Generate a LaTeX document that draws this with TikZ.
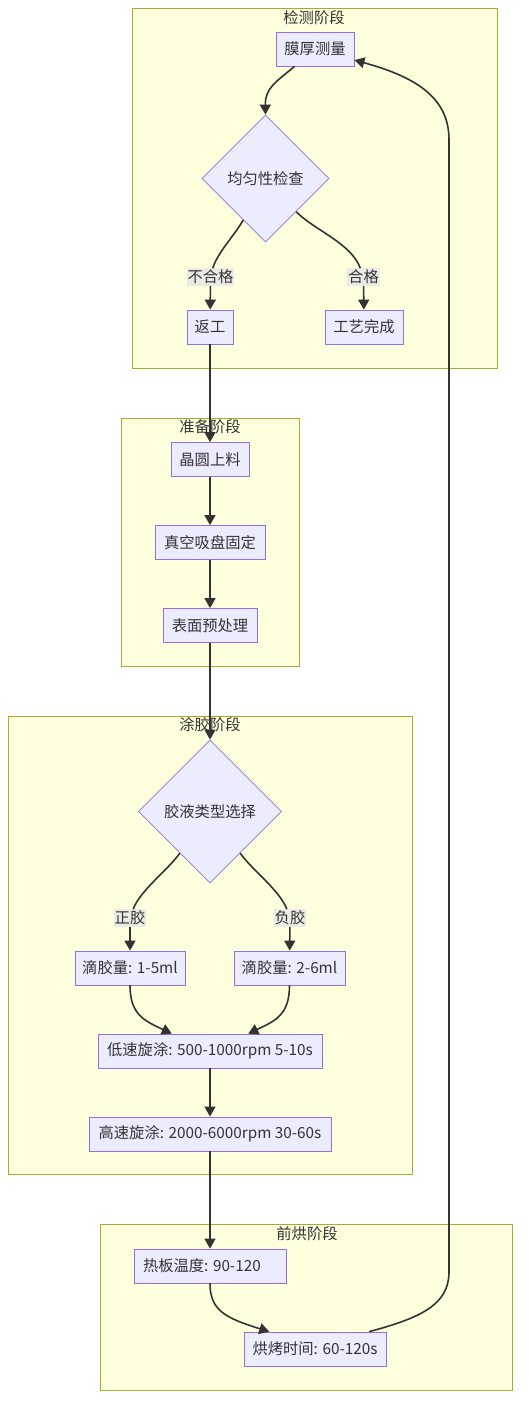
\documentclass[tikz,border=0pt]{standalone}
\usepackage{fontspec}
\setmainfont{Noto Sans CJK SC}
\usetikzlibrary{shapes.geometric,arrows.meta,calc}
\definecolor{clfill}{HTML}{FFFFDE}
\definecolor{cldraw}{HTML}{AAAA33}
\definecolor{ndfill}{HTML}{ECECFF}
\definecolor{nddraw}{HTML}{9370DB}
\definecolor{edgec}{HTML}{333333}
\definecolor{lblbg}{HTML}{E8E8E8}
\begin{document}
\begin{tikzpicture}[x=1pt,y=1pt,
  font=\fontsize{15.3}{18}\selectfont, text=edgec,
  cluster/.style={draw=cldraw, fill=clfill, line width=0.8pt},
  cltitle/.style={inner sep=0pt},
  box/.style={draw=nddraw, fill=ndfill, line width=0.8pt, minimum height=34pt, inner sep=0pt},
  dia/.style={diamond, aspect=1, draw=nddraw, fill=ndfill, line width=0.8pt, inner sep=0pt},
  elabel/.style={fill=lblbg, fill opacity=0.85, text opacity=1, inner xsep=1pt, inner ysep=1.5pt},
  flow/.style={draw=edgec, line width=1.6pt},
  arr/.style={flow, -{Triangle[length=10pt,width=11pt]}}]
\useasboundingbox (0,0) rectangle (528,-1418);
\fill[white] (0,0) rectangle (528,-1418);

% clusters
\path[cluster] (132,-8) rectangle (497,-368);
\path[cluster] (121,-418) rectangle (299,-666);
\path[cluster] (8,-716) rectangle (412,-1174);
\path[cluster] (100,-1224) rectangle (512,-1390);
\node[cltitle] (t1) at (314,-18) {检测阶段};
\node[cltitle] (t2) at (210,-427) {准备阶段};
\node[cltitle] (t3) at (210,-725) {涂胶阶段};
\node[cltitle] (t4) at (307,-1234) {前烘阶段};

% nodes
\node[box, minimum width=78pt] (mh) at (315,-49) {膜厚测量};
\node[dia, minimum width=127pt, minimum height=127pt] (jy) at (265.5,-178.5) {均匀性检查};
\node[box, minimum width=46pt] (fg) at (210,-327) {返工};
\node[box, minimum width=78pt] (wc) at (364,-327) {工艺完成};
\node[elabel] (l1) at (210.5,-277) {不合格};
\node[elabel] (l2) at (363.5,-277) {合格};

\node[box, minimum width=78pt] (sl) at (210,-459.5) {晶圆上料};
\node[box, minimum width=110pt] (zk) at (210,-542.5) {真空吸盘固定};
\node[box, minimum width=94pt] (bm) at (210,-625.5) {表面预处理};

\node[dia, minimum width=143pt, minimum height=143pt] (jl) at (210,-811.5) {胶液类型选择};
\node[elabel] (l3) at (130,-918) {正胶};
\node[elabel] (l4) at (290,-918) {负胶};
\node[box, minimum width=110pt] (dj1) at (130,-968) {滴胶量: 1-5ml};
\node[box, minimum width=111pt] (dj2) at (289.5,-968) {滴胶量: 2-6ml};
\node[box, minimum width=224pt] (ds) at (210,-1051) {低速旋涂: 500-1000rpm 5-10s};
\node[box, minimum width=242pt] (gs) at (210,-1134) {高速旋涂: 2000-6000rpm 30-60s};

\node[box, minimum width=152pt] (rb) at (210,-1266) {\makebox[134pt][l]{热板温度: 90-120}};
\node[box, minimum width=142pt] (bk) at (315,-1349) {烘烤时间: 60-120s};

% anchor coordinates
\coordinate (mhs) at ($(mh.south west)!0.24!(mh.south east)$);
\coordinate (s1) at ($(jy.west)!0.65!(jy.south)$);
\coordinate (s2) at ($(jy.east)!0.52!(jy.south)$);
\coordinate (s3) at ($(jl.west)!0.58!(jl.south)$);
\coordinate (s4) at ($(jl.east)!0.58!(jl.south)$);
\coordinate (dst1) at ($(ds.north west)!0.33!(ds.north east)$);
\coordinate (dst2) at ($(ds.north west)!0.67!(ds.north east)$);
\coordinate (bkt) at ($(bk.north west)!0.18!(bk.north east)$);
\coordinate (bks) at ($(bk.north west)!0.88!(bk.north east)$);
\coordinate (mhe) at ($(mh.north east)!0.82!(mh.south east)$);
\coordinate (rv1) at (449,-1272);
\coordinate (rv2) at (449,-140);

% edges
\draw[arr] (mhs) .. controls (276,-82) and (265,-88) .. (jy.north);
\draw[flow] (s1) to[out=-118,in=75,looseness=0.7] (l1);
\draw[arr] (l1) -- (fg);
\draw[flow] (s2) to[out=-45,in=110,looseness=0.8] (l2);
\draw[arr] (l2) -- (wc);
\draw[arr] (fg) -- (sl);
\draw[arr] (sl) -- (zk);
\draw[arr] (zk) -- (bm);
\draw[arr] (bm.south) -- (jl.north);
\draw[flow] (s3) to[out=-125,in=70,looseness=0.7] (l3);
\draw[arr] (l3) -- (dj1);
\draw[flow] (s4) to[out=-55,in=110,looseness=0.7] (l4);
\draw[arr] (l4) -- (dj2);
\draw[arr] (dj1.south) .. controls (130,-1015) and (145,-1021) .. (dst1);
\draw[arr] (dj2.south) .. controls (289.5,-1015) and (275,-1021) .. (dst2);
\draw[arr] (ds) -- (gs);
\draw[arr] (gs) -- (rb);
\draw[arr] (rb.south) .. controls (210,-1310) and (225,-1318) .. (bkt);
\draw[arr] (bks) .. controls (420,-1318) and (449,-1305) .. (rv1) -- (rv2) .. controls (449,-100) and (420,-78) .. (mhe);
\end{tikzpicture}
\end{document}
